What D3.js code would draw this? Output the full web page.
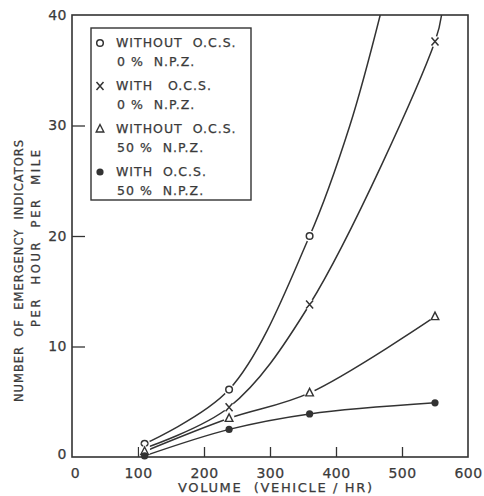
<!DOCTYPE html>
<html>
<head>
<meta charset="utf-8">
<script src="https://cdn.jsdelivr.net/npm/d3@7"></script>
<style>
  body { margin: 0; background: #fff; }
  text { font-family: "DejaVu Sans", sans-serif; fill: #3a3a3a; white-space: pre; stroke: #3a3a3a; stroke-width: 0.25px; }
</style>
</head>
<body>
<div id="vis"></div>
<script>
// Chart box in pixels
const margin = {top: 15, right: 16, bottom: 39, left: 72};
const width = 484 - margin.left - margin.right;
const height = 496 - margin.top - margin.bottom;

// Data
const volume = [110, 238, 360, 550];
const withoutOcs0 = [1.2, 6.1, 20.0];          // open circles (no point at 550)
const withOcs0 = [0.8, 4.5, 13.8, 37.6];       // crosses
const withoutOcs50 = [0.5, 3.5, 5.8, 12.7];    // open triangles
const withOcs50 = [0.1, 2.5, 3.9, 4.9];        // filled dots

// Where the two steep curves leave the top of the frame
const withoutOcs0Tail = [[421, 30], [467, 40]];
const withOcs0Tail = [[560, 40]];

const xTicks = [0, 100, 200, 300, 400, 500, 600];
const yTicks = [0, 10, 20, 30, 40];

const legendLines = [
  ['WITHOUT  O.C.S.', '0 %  N.P.Z.'],
  ['WITH   O.C.S.', '0 %  N.P.Z.'],
  ['WITHOUT  O.C.S.', '50 %  N.P.Z.'],
  ['WITH  O.C.S.', '50 %  N.P.Z.']
];
const legendMarks = ['circle', 'cross', 'triangle', 'dot'];

const ink = '#333';

const svg = d3.select('#vis')
  .append('svg')
  .attr('width', 484)
  .attr('height', 496)
  .append('g')
  .attr('transform', `translate(${margin.left},${margin.top})`);

const x = d3.scaleLinear().domain([0, 600]).range([0, width]);
const y = d3.scaleLinear().domain([0, 40]).range([height, 0]);

// frame
svg.append('rect')
  .attr('width', width).attr('height', height)
  .attr('fill', 'none').attr('stroke', ink).attr('stroke-width', 1.6);

// ticks pointing inward, labels drawn by the axis generator
const xAxis = d3.axisBottom(x).tickValues(xTicks).tickSizeInner(-10).tickSizeOuter(0).tickPadding(11);
const gx = svg.append('g').attr('transform', `translate(0,${height})`).call(xAxis);
const yAxis = d3.axisLeft(y).tickValues(yTicks).tickSizeInner(-13).tickSizeOuter(0).tickPadding(5);
const gy = svg.append('g').call(yAxis);
[gx, gy].forEach(g => {
  g.select('.domain').remove();
  g.selectAll('.tick line').attr('stroke', ink).attr('stroke-width', 1.3);
  g.selectAll('.tick text').style('font-size', '14px').style('font-family', '"DejaVu Sans", sans-serif')
    .style('letter-spacing', '0.5px').attr('fill', '#3a3a3a');
});
gx.selectAll('.tick line').filter(d => d === 0 || d === 600).remove();
gy.selectAll('.tick line').filter(d => d === 0 || d === 40).remove();
gx.selectAll('.tick text').filter(d => d === 0).attr('dx', 3);
gy.selectAll('.tick text').filter(d => d === 0).attr('dy', '0.1em');

// curves
const line = d3.line().x(d => x(d[0])).y(d => y(d[1])).curve(d3.curveCatmullRom.alpha(0.5));
svg.append('clipPath').attr('id', 'clip')
  .append('rect').attr('width', width).attr('height', height);

const seriesList = [
  {vals: withoutOcs0, tail: withoutOcs0Tail, mark: 'circle'},
  {vals: withOcs0, tail: withOcs0Tail, mark: 'cross'},
  {vals: withoutOcs50, tail: [], mark: 'triangle'},
  {vals: withOcs50, tail: [], mark: 'dot'}
];

const curves = svg.append('g').attr('clip-path', 'url(#clip)');
seriesList.forEach(s => {
  const pts = s.vals.map((v, i) => [volume[i], v]).concat(s.tail);
  curves.append('path')
    .attr('d', line(pts))
    .attr('fill', 'none').attr('stroke', ink).attr('stroke-width', 1.5);
});

function drawMark(g, type, cx, cy) {
  if (type === 'circle') {
    g.append('circle').attr('cx', cx).attr('cy', cy).attr('r', 5.5).attr('fill', '#fff');
    g.append('circle').attr('cx', cx).attr('cy', cy).attr('r', 3.3)
      .attr('fill', '#fff').attr('stroke', ink).attr('stroke-width', 1.5);
  } else if (type === 'cross') {
    g.append('circle').attr('cx', cx).attr('cy', cy).attr('r', 5.5).attr('fill', '#fff');
    g.append('path').attr('d', `M${cx - 3.5},${cy - 4}L${cx + 3.5},${cy + 4}M${cx + 3.5},${cy - 4}L${cx - 3.5},${cy + 4}`)
      .attr('stroke', ink).attr('stroke-width', 1.5);
  } else if (type === 'triangle') {
    g.append('circle').attr('cx', cx).attr('cy', cy).attr('r', 5.5).attr('fill', '#fff');
    g.append('path').attr('d', `M${cx},${cy - 4.5}L${cx + 3.8},${cy + 3}L${cx - 3.8},${cy + 3}Z`)
      .attr('fill', '#fff').attr('stroke', ink).attr('stroke-width', 1.4);
  } else {
    g.append('circle').attr('cx', cx).attr('cy', cy).attr('r', 3.6).attr('fill', ink);
  }
}

const marks = svg.append('g');
seriesList.forEach(s => {
  s.vals.forEach((v, i) => drawMark(marks, s.mark, x(volume[i]), y(v)));
});

// legend
const legend = svg.append('g').attr('transform', 'translate(19,13)');
legend.append('rect').attr('width', 160).attr('height', 172)
  .attr('fill', '#fff').attr('stroke', ink).attr('stroke-width', 1.4);
legendLines.forEach((lines, i) => {
  const top = 19 + i * 43;
  drawMark(legend, legendMarks[i], 9, top - 4);
  legend.append('text').attr('x', 25).attr('y', top)
    .style('font-size', '12.5px').style('letter-spacing', '1px').text(lines[0]);
  legend.append('text').attr('x', 26).attr('y', top + 19)
    .style('font-size', '12.5px').style('letter-spacing', '1px').text(lines[1]);
});

// axis titles
svg.append('text')
  .attr('x', 178 - margin.left).attr('y', height + 35)
  .attr('textLength', 194).attr('lengthAdjust', 'spacing')
  .style('font-size', '13px')
  .text('VOLUME  (VEHICLE / HR)');
svg.append('text')
  .attr('transform', 'rotate(-90)')
  .attr('x', -(402 - margin.top)).attr('y', -49)
  .attr('textLength', 262).attr('lengthAdjust', 'spacing')
  .style('font-size', '11.5px')
  .text('NUMBER  OF  EMERGENCY  INDICATORS');
svg.append('text')
  .attr('transform', 'rotate(-90)')
  .attr('x', -(327 - margin.top)).attr('y', -32)
  .attr('textLength', 177).attr('lengthAdjust', 'spacing')
  .style('font-size', '11.5px')
  .text('PER  HOUR  PER  MILE');
</script>
</body>
</html>
